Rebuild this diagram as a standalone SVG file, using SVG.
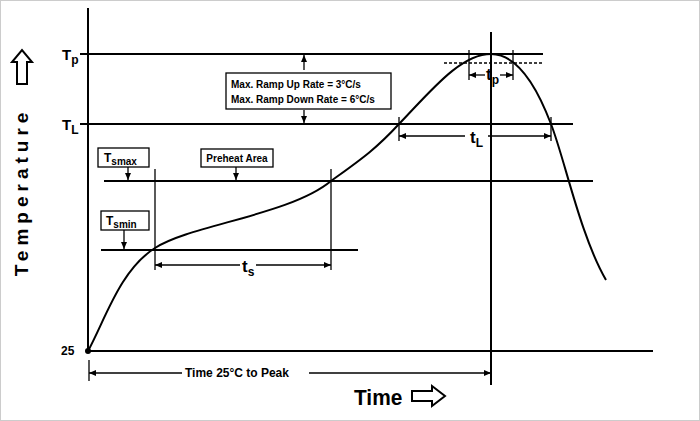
<svg xmlns="http://www.w3.org/2000/svg" width="700" height="421" viewBox="0 0 700 421">
<style>
.l{stroke:#000;stroke-width:2;fill:none}
.t{stroke:#000;stroke-width:1.3;fill:none}
.b{fill:#fff;stroke:#000;stroke-width:1.3}
text{font-family:"Liberation Sans",Arial,sans-serif;font-weight:bold;fill:#000}
.s{font-size:10px}
</style>
<defs>
<marker id="a" markerWidth="8" markerHeight="8" refX="7" refY="4" orient="auto-start-reverse" markerUnits="userSpaceOnUse"><path d="M0,1 L7,4 L0,7 Z" fill="#000"/></marker>
</defs>
<rect width="700" height="421" fill="#fff"/>
<rect x="0.5" y="0.5" width="699" height="420" fill="none" stroke="#ccc"/>
<g id="axes">
<line class="l" x1="88" y1="8" x2="88" y2="351" stroke-width="3"/>
<line class="l" x1="88" y1="351" x2="653" y2="351" stroke-width="3.5"/>
<circle cx="88" cy="351" r="3"/>
<text x="61" y="355" font-size="12">25</text>
<text x="62" y="60" font-size="15">T<tspan font-size="12" dy="4">p</tspan></text>
<text x="62" y="130" font-size="15">T<tspan font-size="12" dy="4">L</tspan></text>
<text transform="translate(28,192) rotate(-90)" text-anchor="middle" font-size="19" letter-spacing="5">Temperature</text>
<path d="M17,84 V62 H12 L22,50 L32,62 H27 V84 Z" fill="#fff" stroke="#000" stroke-width="2"/>
<text x="354" y="405" font-size="22" transform="translate(354,0) scale(0.95,1) translate(-354,0)">Time</text>
<path d="M412,391 H432 V386 L445,396 L432,406 V401 H412 Z" fill="#fff" stroke="#000" stroke-width="2"/>
</g>
<g id="connectors">
<line class="l" x1="80" y1="54" x2="543" y2="54"/>
<line class="l" x1="80" y1="124" x2="573" y2="124"/>
<line class="l" x1="104" y1="181" x2="593" y2="181"/>
<line class="l" x1="101" y1="250" x2="358" y2="250"/>
<line class="l" x1="491" y1="32" x2="491" y2="385"/>
<line class="t" x1="444" y1="63" x2="543" y2="63" stroke-dasharray="3,2"/>
<line class="t" x1="155" y1="169" x2="155" y2="270"/>
<line class="t" x1="331" y1="169" x2="331" y2="270"/>
<line class="t" x1="155" y1="265" x2="240" y2="265" marker-start="url(#a)"/>
<line class="t" x1="256" y1="265" x2="331" y2="265" marker-end="url(#a)"/>
<text x="242" y="272" font-size="17">t<tspan font-size="12" dy="4">s</tspan></text>
<line class="t" x1="469" y1="50" x2="469" y2="80"/>
<line class="t" x1="513" y1="50" x2="513" y2="80"/>
<line class="t" x1="469" y1="75" x2="485" y2="75" marker-start="url(#a)"/>
<line class="t" x1="500" y1="75" x2="513" y2="75" marker-end="url(#a)"/>
<text x="486" y="80" font-size="17">t<tspan font-size="12" dy="4">p</tspan></text>
<line class="t" x1="399" y1="117" x2="399" y2="141"/>
<line class="t" x1="551" y1="117" x2="551" y2="141"/>
<line class="t" x1="399" y1="136" x2="465" y2="136" marker-start="url(#a)"/>
<line class="t" x1="488" y1="136" x2="551" y2="136" marker-end="url(#a)"/>
<text x="470" y="143" font-size="17">t<tspan font-size="12" dy="4">L</tspan></text>
<line class="t" x1="89" y1="360" x2="89" y2="381"/>
<line class="t" x1="89" y1="373" x2="182" y2="373" marker-start="url(#a)"/>
<line class="t" x1="309" y1="373" x2="491" y2="373" marker-end="url(#a)"/>
<text x="185" y="377" font-size="12">Time 25°C to Peak</text>
<line class="t" x1="304" y1="70" x2="304" y2="55" marker-end="url(#a)"/>
<line class="t" x1="304" y1="110" x2="304" y2="123" marker-end="url(#a)"/>
<line class="t" x1="128" y1="167" x2="128" y2="180" marker-end="url(#a)"/>
<line class="t" x1="124" y1="230" x2="124" y2="249" marker-end="url(#a)"/>
<line class="t" x1="236" y1="167" x2="236" y2="180" marker-end="url(#a)"/>
<path class="l" stroke-width="2.5" d="M88,351 C105,320 120,270 155,248 C190,225 290,215 331,181 C360,160 375,150 399,124 C430,92 460,54 491,54 C520,54 540,95 551,124 C565,160 580,235 606,280"/>
</g>
<g id="rate"><rect class="b" x="226" y="73" width="165" height="36"/>
<text x="231" y="88" class="s">Max. Ramp Up Rate = 3°C/s</text>
<text x="231" y="103" class="s">Max. Ramp Down Rate = 6°C/s</text></g>
<g id="tsmax"><rect class="b" x="98" y="148" width="51" height="19"/><text x="104" y="162" font-size="12">T<tspan font-size="10" dy="3">smax</tspan></text></g>
<g id="tsmin"><rect class="b" x="101" y="211" width="48" height="19"/><text x="106" y="225" font-size="12">T<tspan font-size="10" dy="3">smin</tspan></text></g>
<g id="preheat"><rect class="b" x="201" y="149" width="72" height="18"/><text x="237" y="162" class="s" text-anchor="middle">Preheat Area</text></g>
</svg>
